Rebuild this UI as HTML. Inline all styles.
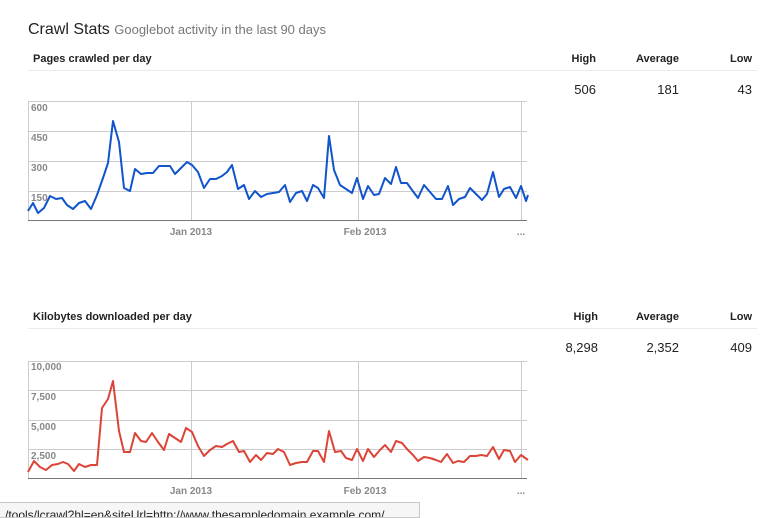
<!DOCTYPE html>
<html><head><style>
body{margin:0;width:779px;height:511px;background:#fff;position:relative;overflow:hidden;font-family:"Liberation Sans",Arial,sans-serif;}
.a{position:absolute;white-space:nowrap;}
.h{font-weight:bold;font-size:11px;color:#222;}
.v{font-size:13px;color:#222;}
.line{position:absolute;left:28px;width:729px;height:1px;background:#ebebeb;}
</style></head><body>
<div class="a" style="left:28px;top:21px;font-size:16px;color:#222;">Crawl Stats <span style="font-size:13px;color:#777;">Googlebot activity in the last 90 days</span></div>

<div class="a h" style="left:33px;top:53px;">Pages crawled per day</div>
<div class="line" style="top:70px"></div>
<div class="a h" style="right:183px;top:53px;">High</div>
<div class="a h" style="right:100px;top:53px;">Average</div>
<div class="a h" style="right:27px;top:53px;">Low</div>
<div class="a v" style="right:183px;top:82px;">506</div>
<div class="a v" style="right:100px;top:82px;">181</div>
<div class="a v" style="right:27px;top:82px;">43</div>

<div class="a h" style="left:33px;top:311px;">Kilobytes downloaded per day</div>
<div class="line" style="top:328px"></div>
<div class="a h" style="right:181px;top:311px;">High</div>
<div class="a h" style="right:100px;top:311px;">Average</div>
<div class="a h" style="right:27px;top:311px;">Low</div>
<div class="a v" style="right:181px;top:340px;">8,298</div>
<div class="a v" style="right:100px;top:340px;">2,352</div>
<div class="a v" style="right:27px;top:340px;">409</div>

<svg width="779" height="511" style="position:absolute;left:0;top:0" font-family="Liberation Sans, Arial, sans-serif">
<g stroke="#cccccc" stroke-width="1" fill="none">
<path d="M28 101.5H527M28 131.5H527M28 161.5H527M28 191.5H527M191.5 101V221M358.5 101V221M521.5 101V221M28.5 101V221"/>
<path d="M28 361.5H527M28 390.5H527M28 420.5H527M28 449.5H527M191.5 361V478M358.5 361V478M521.5 361V478M28.5 361V478"/>
</g>
<path d="M28 220.5H527M28 478.5H527" stroke="#777" stroke-width="1"/>
<g font-size="10" fill="#888" font-weight="bold">
<text x="31" y="111">600</text><text x="31" y="141">450</text><text x="31" y="171">300</text><text x="31" y="201">150</text>
<text x="31" y="370">10,000</text><text x="31" y="400">7,500</text><text x="31" y="430">5,000</text><text x="31" y="459">2,500</text>
<text x="191" y="235" text-anchor="middle">Jan 2013</text><text x="365" y="235" text-anchor="middle">Feb 2013</text><text x="521" y="235" text-anchor="middle">...</text>
<text x="191" y="494" text-anchor="middle">Jan 2013</text><text x="365" y="494" text-anchor="middle">Feb 2013</text><text x="521" y="494" text-anchor="middle">...</text>
</g>
<polyline fill="none" stroke="#1155cc" stroke-width="2" stroke-linejoin="round" points="28,211 33,203 38,213 44,208 50,196 56,199 62,198 67,205 73,209 79,203 85,201 91,209 97,195 103,178 108,163 113,121 119,142 124,188 130,191 135,169 141,174 147,173 153,173 159,166 164,166 170,166 175,174 181,168 187,162 192,165 198,172 204,188 210,179 216,179 222,176 227,172 232,165 238,189 244,185 249,199 255,191 261,197 267,194 273,193 279,192 285,185 290,202 296,193 302,191 307,201 313,185 318,188 324,198 329,136 334,170 340,185 346,189 352,193 357,178 363,199 368,186 374,195 379,194 385,178 391,184 396,167 401,183 407,183 412,190 418,198 424,185 430,192 436,199 442,199 448,186 453,205 459,199 465,197 470,188 476,194 482,200 487,194 493,172 499,197 504,189 510,187 516,198 521,186 526,201 528,195"/>
<polyline fill="none" stroke="#dc4437" stroke-width="2" stroke-linejoin="round" points="28,472 34,461 40,467 46,470 52,465 58,464 63,462 68,464 74,471 79,464 85,467 91,465 97,465 102,408 108,399 113,381 119,431 124,452 130,452 135,433 141,441 146,442 152,433 158,442 164,450 169,434 175,438 181,442 186,428 192,432 198,446 204,456 210,450 216,446 222,447 227,444 233,441 239,452 244,451 250,462 256,455 261,460 267,453 273,454 278,449 284,452 290,465 296,463 302,462 307,462 313,451 318,451 324,462 329,431 335,452 341,451 346,458 352,460 357,449 363,461 368,449 374,457 380,450 385,445 391,452 396,441 402,443 407,449 413,455 418,461 424,457 430,458 436,460 441,462 447,454 453,463 458,461 464,462 470,456 476,456 481,455 487,456 493,447 499,459 504,450 510,451 515,462 521,455 528,460"/>
</svg>
<div class="a" style="left:-2px;top:502px;width:414px;height:14px;border:1px solid #c8c8c8;background:#f6f6f6;font-size:12px;color:#222;overflow:hidden;line-height:14px;padding-left:6px;"><div style="position:relative;top:5px;">/tools/lcrawl?hl=en&amp;siteUrl=http://www.thesampledomain.example.com/</div></div>
</body></html>
